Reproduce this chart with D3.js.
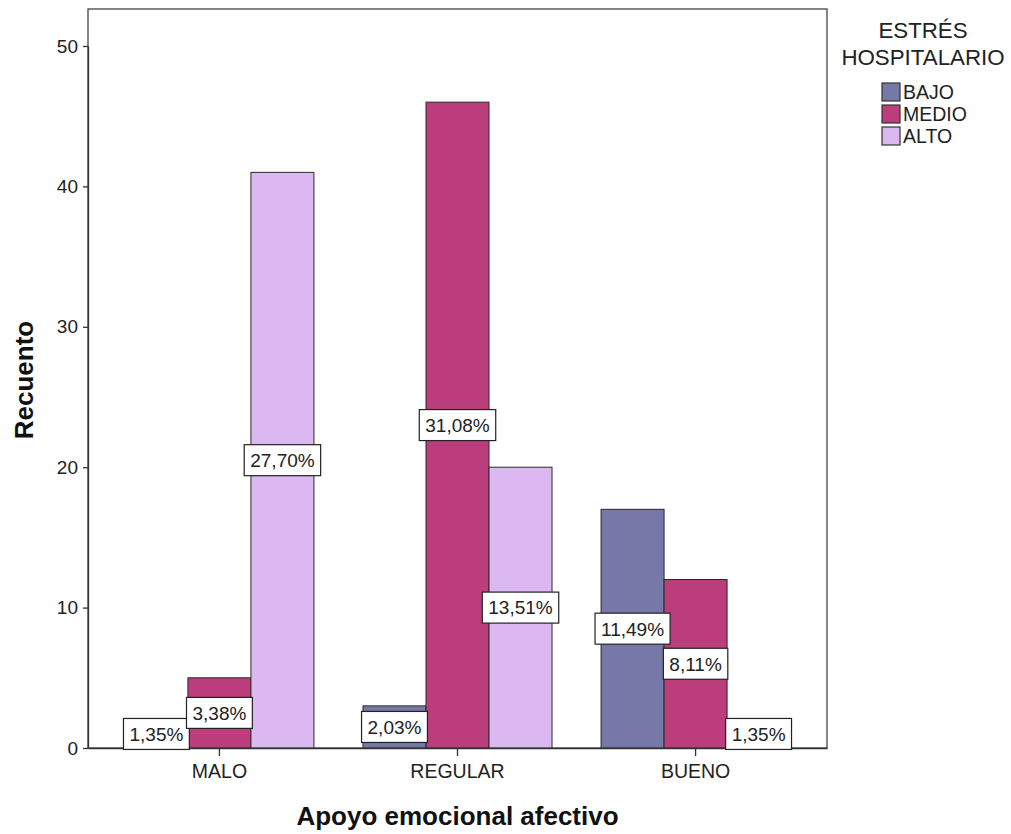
<!DOCTYPE html>
<html><head><meta charset="utf-8">
<script src="https://cdn.jsdelivr.net/npm/d3@7"></script>
<style>body{margin:0;background:#fff}svg{display:block}text{font-family:"Liberation Sans",Arial,sans-serif}</style>
</head><body><svg id="c" width="1011" height="834"></svg>
<script>
const categories = ["MALO", "REGULAR", "BUENO"];
const seriesNames = ["BAJO", "MEDIO", "ALTO"];
const bajo = [2, 3, 17];
const medio = [5, 46, 12];
const alto = [41, 20, 2];
const pctLabels = {
  BAJO: ["1,35%", "2,03%", "11,49%"],
  MEDIO: ["3,38%", "31,08%", "8,11%"],
  ALTO: ["27,70%", "13,51%", "1,35%"]
};
const yTicks = [0, 10, 20, 30, 40, 50];
const colors = ["#7679a8", "#bc3d7b", "#dcb8f0"];
const legendTitle = ["ESTRÉS", "HOSPITALARIO"];
const xTitle = "Apoyo emocional afectivo";
const yTitle = "Recuento";

const values = [bajo, medio, alto];
const svg = d3.select("#c");
const L = 88, R = 827, T = 9, B = 748;
const FF = '"Liberation Sans",Arial,sans-serif';

const x0 = d3.scaleBand().domain(categories).range([L, R]).paddingInner(0.206).paddingOuter(0.155);
const x1 = d3.scaleBand().domain(seriesNames).range([0, x0.bandwidth()]);
const y = d3.scaleLinear().domain([0, 50]).range([B, 46]);
const color = d3.scaleOrdinal().domain(seriesNames).range(colors);

// frame
svg.append("rect").attr("x", L).attr("y", T).attr("width", R - L).attr("height", B - T)
  .attr("fill", "none").attr("stroke", "#444").attr("stroke-width", 1.3);

// bars
const data = [];
categories.forEach((c, i) => seriesNames.forEach((s, j) => data.push({c, s, v: values[j][i], p: pctLabels[s][i]})));
svg.append("g").selectAll("rect").data(data).join("rect")
  .attr("x", d => x0(d.c) + x1(d.s))
  .attr("y", d => y(d.v))
  .attr("width", x1.bandwidth())
  .attr("height", d => y(0) - y(d.v))
  .attr("fill", d => color(d.s))
  .attr("stroke", "#2a2a2a").attr("stroke-width", 1);

// y axis
const yAxis = svg.append("g").attr("transform", `translate(${L},0)`)
  .call(d3.axisLeft(y).tickValues(yTicks).tickSize(5).tickSizeOuter(0).tickPadding(5).tickFormat(d3.format("d")));
yAxis.select(".domain").attr("stroke", "#333").attr("stroke-width", 1.3);
yAxis.selectAll(".tick line").attr("stroke", "#333").attr("stroke-width", 1.3);
yAxis.selectAll(".tick text").attr("font-size", 19).attr("fill", "#222").style("font-family", FF);

// x axis
const xAxis = svg.append("g").attr("transform", `translate(0,${B})`)
  .call(d3.axisBottom(x0).tickSize(8).tickSizeOuter(0).tickPadding(8));
xAxis.select(".domain").attr("stroke", "#333").attr("stroke-width", 1.3);
xAxis.selectAll(".tick line").attr("stroke", "#333").attr("stroke-width", 1.3);
xAxis.selectAll(".tick text").attr("font-size", 19.5).attr("fill", "#222").style("font-family", FF);

// labels
const lg = svg.append("g").selectAll("g").data(data).join("g")
  .attr("transform", d => `translate(${x0(d.c) + x1(d.s) + x1.bandwidth() / 2},${y(d.v / 2)})`);
lg.append("text").text(d => d.p).attr("text-anchor", "middle").attr("dy", "0.36em")
  .attr("font-size", 19).attr("fill", "#222");
lg.each(function() {
  const g = d3.select(this);
  const w = g.select("text").node().getComputedTextLength();
  g.insert("rect", "text").attr("x", -w / 2 - 6).attr("y", -15.5).attr("width", w + 12).attr("height", 31)
    .attr("fill", "#fff").attr("stroke", "#222").attr("stroke-width", 1.2);
});

// axis titles
svg.append("text").attr("x", (L + R) / 2).attr("y", 825).attr("text-anchor", "middle")
  .attr("font-size", 26).attr("font-weight", "bold").attr("fill", "#111").text(xTitle);
svg.append("text").attr("transform", "translate(33,380) rotate(-90)").attr("text-anchor", "middle")
  .attr("font-size", 26).attr("font-weight", "bold").attr("fill", "#111").text(yTitle);

// legend
svg.append("g").selectAll("text").data(legendTitle).join("text")
  .attr("x", 923).attr("y", (d, i) => 38 + i * 27).attr("text-anchor", "middle")
  .attr("font-size", 22.3).attr("fill", "#222").text(d => d);
const li = svg.append("g").selectAll("g").data(seriesNames).join("g")
  .attr("transform", (d, i) => `translate(882,${83 + i * 22})`);
li.append("rect").attr("width", 18).attr("height", 18).attr("fill", d => color(d))
  .attr("stroke", "#333").attr("stroke-width", 1.2);
li.append("text").attr("x", 21).attr("y", 16).attr("font-size", 19.5).attr("fill", "#222").text(d => d);
</script></body></html>
